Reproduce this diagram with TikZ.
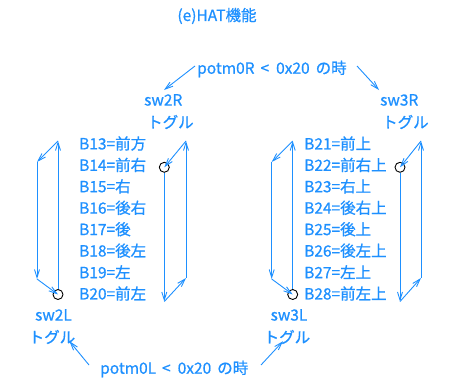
\documentclass[tikz,border=0pt]{standalone}
\usepackage{fontspec}
\setmainfont{Noto Sans CJK JP}[FakeBold=0.8]
\usetikzlibrary{arrows.meta}
\definecolor{hatblue}{RGB}{30,144,255}
\tikzset{
  lbl/.style={text=hatblue, font=\fontsize{15.5}{22}\selectfont, inner sep=0pt},
  flow/.style={draw=hatblue, line width=0.9pt, -{Straight Barb[length=8pt,width=5pt]}},
  ring/.style={draw=black, line width=0.9pt, circle, minimum size=10pt, inner sep=0pt},
}
\begin{document}
\begin{tikzpicture}[x=1pt,y=-1pt]
\useasboundingbox (0,0) rectangle (450,382);
\node[lbl] (title) at (217,16) {(e)HAT機能};
\node[lbl, anchor=west] (topc) at (197,69) {potm0R\hspace{6pt}<\hspace{7pt}0x20\hspace{6pt}の時};
\node[lbl, anchor=west] (botc) at (100,369) {potm0L\hspace{6pt}<\hspace{7pt}0x20\hspace{6pt}の時};
\node[lbl, anchor=west] (sw2R) at (144,100) {sw2R};
\node[lbl, anchor=west] (sw2Rt) at (147,122) {トグル};
\node[lbl, anchor=west] (sw3R) at (380,100) {sw3R};
\node[lbl, anchor=west] (sw3Rt) at (382,122) {トグル};
\node[lbl] (sw2L) at (53.5,315) {sw2L};
\node[lbl] (sw2Lt) at (52,337) {トグル};
\node[lbl] (sw3L) at (289,315) {sw3L};
\node[lbl] (sw3Lt) at (287,337) {トグル};
% button lists
\foreach \t [count=\i from 0] in {B13=前方,B14=前右,B15=右,B16=後右,B17=後,B18=後左,B19=左,B20=前左}
  \node[lbl, anchor=west] (l\i) at (79,143.5+21.43*\i) {\t};
\foreach \t [count=\i from 0] in {B21=前上,B22=前右上,B23=右上,B24=後右上,B25=後上,B26=後左上,B27=左上,B28=前左上}
  \node[lbl, anchor=west] (r\i) at (304,143.5+21.43*\i) {\t};
% rings
\node[ring] (c2L) at (58,294.5) {};
\node[ring] (c2R) at (164.3,167.3) {};
\node[ring] (c3L) at (292.7,294.5) {};
\node[ring] (c3R) at (400,167.3) {};
% corners
\coordinate (a1) at (58,141);
\coordinate (a2) at (37,162);
\coordinate (a3) at (37,279);
\coordinate (b1) at (164.3,301.5);
\coordinate (b2) at (186,278);
\coordinate (b3) at (186,141);
\coordinate (d1) at (292.7,141);
\coordinate (d2) at (271.7,162);
\coordinate (d3) at (271.7,279);
\coordinate (e1) at (400,301.5);
\coordinate (e2) at (421,278);
\coordinate (e3) at (421,141);
% loops
\draw[flow] (c2L) -- (a1);
\draw[flow] (a1) -- (a2);
\draw[flow] (a2) -- (a3);
\draw[flow] (a3) -- (c2L.center);
\draw[flow] (c2R) -- (b1);
\draw[flow] (b1) -- (b2);
\draw[flow] (b2) -- (b3);
\draw[flow] (b3) -- (c2R.center);
\draw[flow] (c3L) -- (d1);
\draw[flow] (d1) -- (d2);
\draw[flow] (d2) -- (d3);
\draw[flow] (d3) -- (c3L.center);
\draw[flow] (c3R) -- (e1);
\draw[flow] (e1) -- (e2);
\draw[flow] (e2) -- (e3);
\draw[flow] (e3) -- (c3R.center);
% condition arrows
\draw[flow] ([xshift=-2pt,yshift=3pt]topc.west) -- ([xshift=20pt,yshift=4pt]sw2R.north west);
\draw[flow] ([xshift=160pt,yshift=3pt]topc.west) -- ([xshift=-1pt,yshift=4pt]sw3R.north west);
\draw[flow] ([xshift=-11pt,yshift=4pt]botc.west) -- ([xshift=-6pt,yshift=3pt]sw2Lt.south east);
\draw[flow] ([xshift=161pt,yshift=4pt]botc.west) -- ([xshift=-4pt,yshift=3pt]sw3Lt.south);
\end{tikzpicture}
\end{document}
